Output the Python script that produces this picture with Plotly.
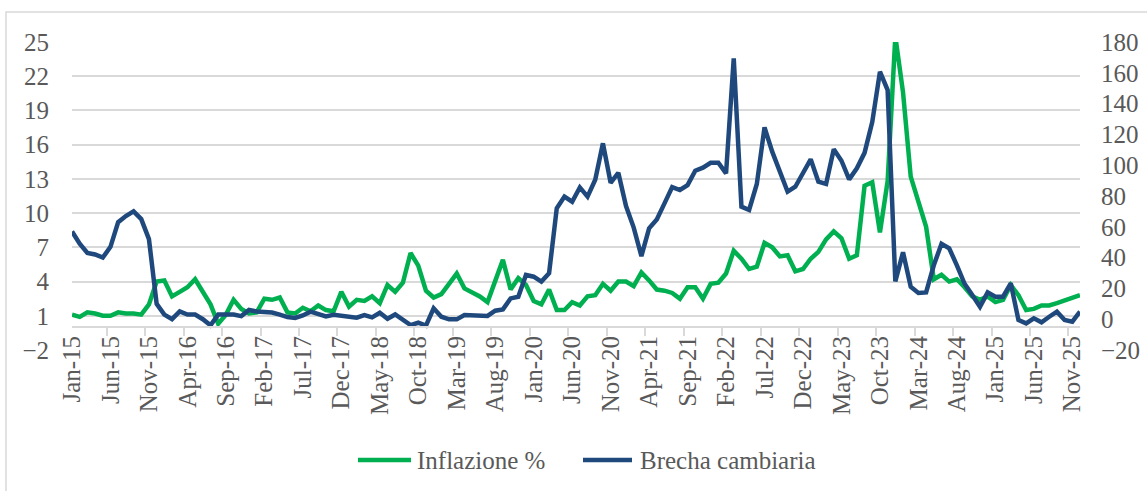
import pandas as pd
import plotly.graph_objects as go

# Monthly categories Jan-15 .. Dec-25
months = pd.date_range("2015-01-01", periods=132, freq="MS").strftime("%b-%y").tolist()

inflazione = [
    1.1, 0.9, 1.3, 1.2, 1.0, 1.0, 1.3, 1.2, 1.2, 1.1, 2.0, 4.0,      # 2015
    4.1, 2.7, 3.1, 3.5, 4.2, 3.1, 2.0, 0.3, 1.1, 2.4, 1.6, 1.2,      # 2016
    1.3, 2.5, 2.4, 2.6, 1.3, 1.2, 1.7, 1.4, 1.9, 1.5, 1.4, 3.1,      # 2017
    1.8, 2.4, 2.3, 2.7, 2.1, 3.7, 3.1, 3.9, 6.5, 5.4, 3.2, 2.6,      # 2018
    2.9, 3.8, 4.7, 3.4, 3.1, 2.7, 2.2, 4.0, 5.9, 3.3, 4.3, 3.7,      # 2019
    2.3, 2.0, 3.3, 1.5, 1.5, 2.2, 1.9, 2.7, 2.8, 3.8, 3.2, 4.0,      # 2020
    4.0, 3.6, 4.8, 4.1, 3.3, 3.2, 3.0, 2.5, 3.5, 3.5, 2.5, 3.8,      # 2021
    3.9, 4.7, 6.7, 6.0, 5.1, 5.3, 7.4, 7.0, 6.2, 6.3, 4.9, 5.1,      # 2022
    6.0, 6.6, 7.7, 8.4, 7.8, 6.0, 6.3, 12.4, 12.7, 8.3, 12.8, 25.5,  # 2023
    20.6, 13.2, 11.0, 8.8, 4.2, 4.6, 4.0, 4.2, 3.5, 2.7, 2.4, 2.7,   # 2024
    2.2, 2.4, 3.7, 2.8, 1.5, 1.6, 1.9, 1.9, 2.1, 2.3, 2.5, 2.8,      # 2025
]

brecha = [
    57, 49, 43, 42, 40, 47, 63, 67, 70, 65, 52, 10,                  # 2015
    3, 0, 5, 3, 3, 0, -4, 3, 3, 3, 2, 6,                             # 2016
    5, 5, 4.3, 3, 1.4, 0.8, 2.4, 4.9, 3, 1.8, 2.9, 2.4,              # 2017
    2.1, 1.0, 2.7, 1.2, 4.2, 0.3, 3.1, -0.1, -3.8, -2.3, -4.2, 7.1,  # 2018
    1.6, -0.1, -0.1, 2.7, 2.5, 2.7, 2.1, 5.5, 6.4, 13.5, 14.6, 28.7, # 2019
    27.6, 24.4, 29.8, 72, 79.6, 76.3, 85.6, 79.6, 90.6, 114.2, 88.6, 95.1,  # 2020
    73.5, 59.5, 41, 59, 64.8, 75.2, 85.8, 83.9, 87.1, 96.4, 98.4, 101.6,    # 2021
    101.6, 94.7, 169.4, 73.1, 70.9, 87.8, 124.6, 108.8, 94.7, 82.8, 86.0, 94.7,  # 2022
    103.8, 89.3, 87.8, 110.3, 102.9, 90.8, 98, 108, 128, 160.7, 148.8, 24.5,     # 2023
    43.5, 21, 17, 17.4, 35, 49, 46, 35, 23, 15.7, 8, 17.4,           # 2024
    14.6, 14.6, 23.3, -0.5, -2.7, 0.6, -2, 1.6, 4.9, -0.5, -1.6, 4.9, # 2025
]

series_names = ["Inflazione %", "Brecha cambiaria"]
series_colors = ["#00B050", "#1F497D"]

FONT = "Liberation Serif, Cambria, serif"
GREY = "#595959"
GRID = "#d9d9d9"
FS = 25

# pixel -> paper helpers (plot area: x 72..1080, y 42..350)
def px(x):
    return (x - 72) / 1008

def py(y):
    return (350 - y) / 308

fig = go.Figure()
fig.add_trace(go.Scatter(x=months, y=inflazione, name=series_names[0], mode="lines",
                         line=dict(color=series_colors[0], width=4.5), yaxis="y"))
fig.add_trace(go.Scatter(x=months, y=brecha, name=series_names[1], mode="lines",
                         line=dict(color=series_colors[1], width=4.5), yaxis="y2"))

fig.update_layout(
    width=1147, height=491,
    margin=dict(l=72, r=67, t=42, b=141, pad=0),
    paper_bgcolor="white", plot_bgcolor="white",
    font=dict(family=FONT, size=FS, color=GREY),
    showlegend=False,
    xaxis=dict(
        type="category", tickmode="linear", tick0=0, dtick=5,
        tickson="boundaries", tickangle=-90,
        ticks="outside", ticklen=8, tickcolor=GRID, tickwidth=1.5,
        showline=True, linecolor=GRID, linewidth=1.5,
        anchor="free", position=2 / 27,
        showgrid=False, zeroline=False, automargin=False,
        ticklabelstandoff=-2,
        tickfont=dict(family=FONT, size=FS, color=GREY),
    ),
    yaxis=dict(
        range=[-2, 25], tickmode="linear", tick0=-2, dtick=3,
        showgrid=True, gridcolor=GRID, gridwidth=1.5,
        zeroline=False, showline=False, ticks="", automargin=False,
        ticklabelstandoff=22,
        tickfont=dict(family=FONT, size=FS, color=GREY),
    ),
    yaxis2=dict(
        range=[-20, 180], tickmode="linear", tick0=-20, dtick=20,
        overlaying="y", side="right",
        showgrid=False, zeroline=False, showline=False, ticks="", automargin=False,
        ticklabelstandoff=20,
        tickfont=dict(family=FONT, size=FS, color=GREY),
    ),
)

# chart border (light grey frame)
fig.add_shape(type="rect", xref="paper", yref="paper",
              x0=px(6), x1=px(1152), y0=py(496), y1=py(12),
              line=dict(color=GRID, width=1.5), fillcolor="rgba(0,0,0,0)", layer="below")

# legend (drawn as samples + labels)
legend_items = [(358, 411, 415), (583, 632, 638)]
for (x0, x1, xt), name, col in zip(legend_items, series_names, series_colors):
    fig.add_shape(type="line", xref="paper", yref="paper",
                  x0=px(x0), x1=px(x1), y0=py(460), y1=py(460),
                  line=dict(color=col, width=4.5))
    fig.add_annotation(x=px(xt), y=py(460), xref="paper", yref="paper",
                       text=name, showarrow=False, xanchor="left", yanchor="middle",
                       font=dict(family=FONT, size=FS, color=GREY))

fig.write_html("out.html",
               config={"displayModeBar": False},
               post_script="document.body.style.margin='0';document.body.style.padding='0';")
